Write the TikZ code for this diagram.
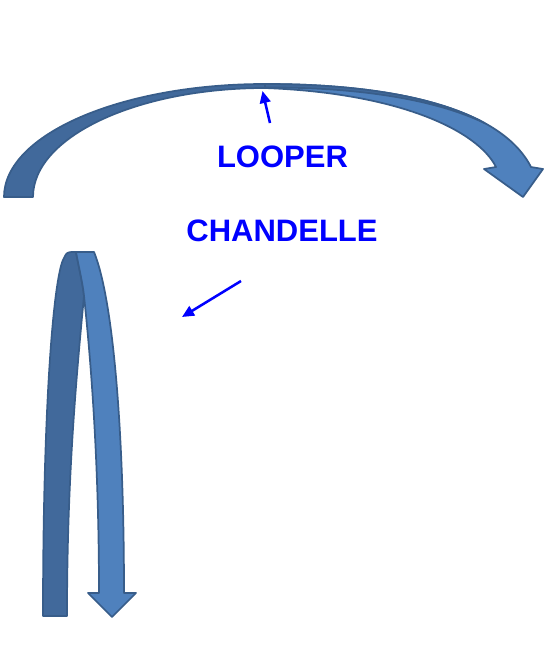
\documentclass[tikz,border=0pt]{standalone}
\usepackage{fontspec}
\setmainfont{Liberation Sans}
\usetikzlibrary{arrows.meta}

\definecolor{ribbondark}{RGB}{65,105,155}
\definecolor{ribbonlight}{RGB}{79,129,189}
\definecolor{ribbonedge}{RGB}{56,93,138}

\begin{document}
\begin{tikzpicture}[x=0.75pt,y=-0.75pt,
    darkface/.style={fill=ribbondark, draw=ribbonedge, line width=1.3pt, line join=round},
    lightface/.style={fill=ribbonlight, draw=ribbonedge, line width=1.3pt, line join=round},
    pointer/.style={draw=blue, line width=1.9pt, -{Triangle[length=9pt,width=8pt]}},
    caption/.style={text=blue, inner sep=0pt, font=\fontsize{23.25}{28}\selectfont\bfseries}]
    \useasboundingbox (0,0) rectangle (545,647);

    % looper: big arc over the top
    \path[lightface] (265,84) .. controls (400,84) and (502,110) .. (531,167)
        -- (543,169) -- (523,197) -- (484,169) -- (496,167)
        .. controls (478,131) and (400,93) .. (265,88) -- cycle;
    \path[darkface] (4,197) arc[start angle=180, end angle=270, x radius=261, y radius=113]
        -- (265,88) arc[start angle=270, end angle=180, x radius=232, y radius=109] -- cycle;
    \path[darkface] (265,84) .. controls (359.5,84) and (436.9,96.7) .. (485,123.3)
        .. controls (436,99.5) and (359,87) .. (265,87.5) -- cycle;

    % chandelle: tall loop on the left
    \path[darkface] (43,616) .. controls (43,400) and (54,274) .. (64,258)
        .. controls (66,253) and (68,252) .. (72,252) -- (76,252)
        .. controls (79,268) and (83,285) .. (84,296)
        .. controls (76,380) and (67,480) .. (67,616) -- cycle;
    \path[lightface] (76,252) -- (94,252) .. controls (112,296) and (124,420) .. (124,593)
        -- (136,593) -- (112,617) -- (88,593) -- (99,593)
        .. controls (99,480) and (93,380) .. (84,296)
        .. controls (83,285) and (79,268) .. (76,252) -- cycle;

    \node[caption] (looper) at (282.5,156.5) {LOOPER};
    \node[caption] (chandelle) at (282,230.5) {CHANDELLE};

    \coordinate (looper tail) at (270,123);
    \coordinate (looper tip) at (262.5,91);
    \coordinate (chandelle tail) at (241,281);
    \coordinate (chandelle tip) at (182,317);
    \draw[pointer] (looper tail) -- (looper tip);
    \draw[pointer] (chandelle tail) -- (chandelle tip);
\end{tikzpicture}
\end{document}
